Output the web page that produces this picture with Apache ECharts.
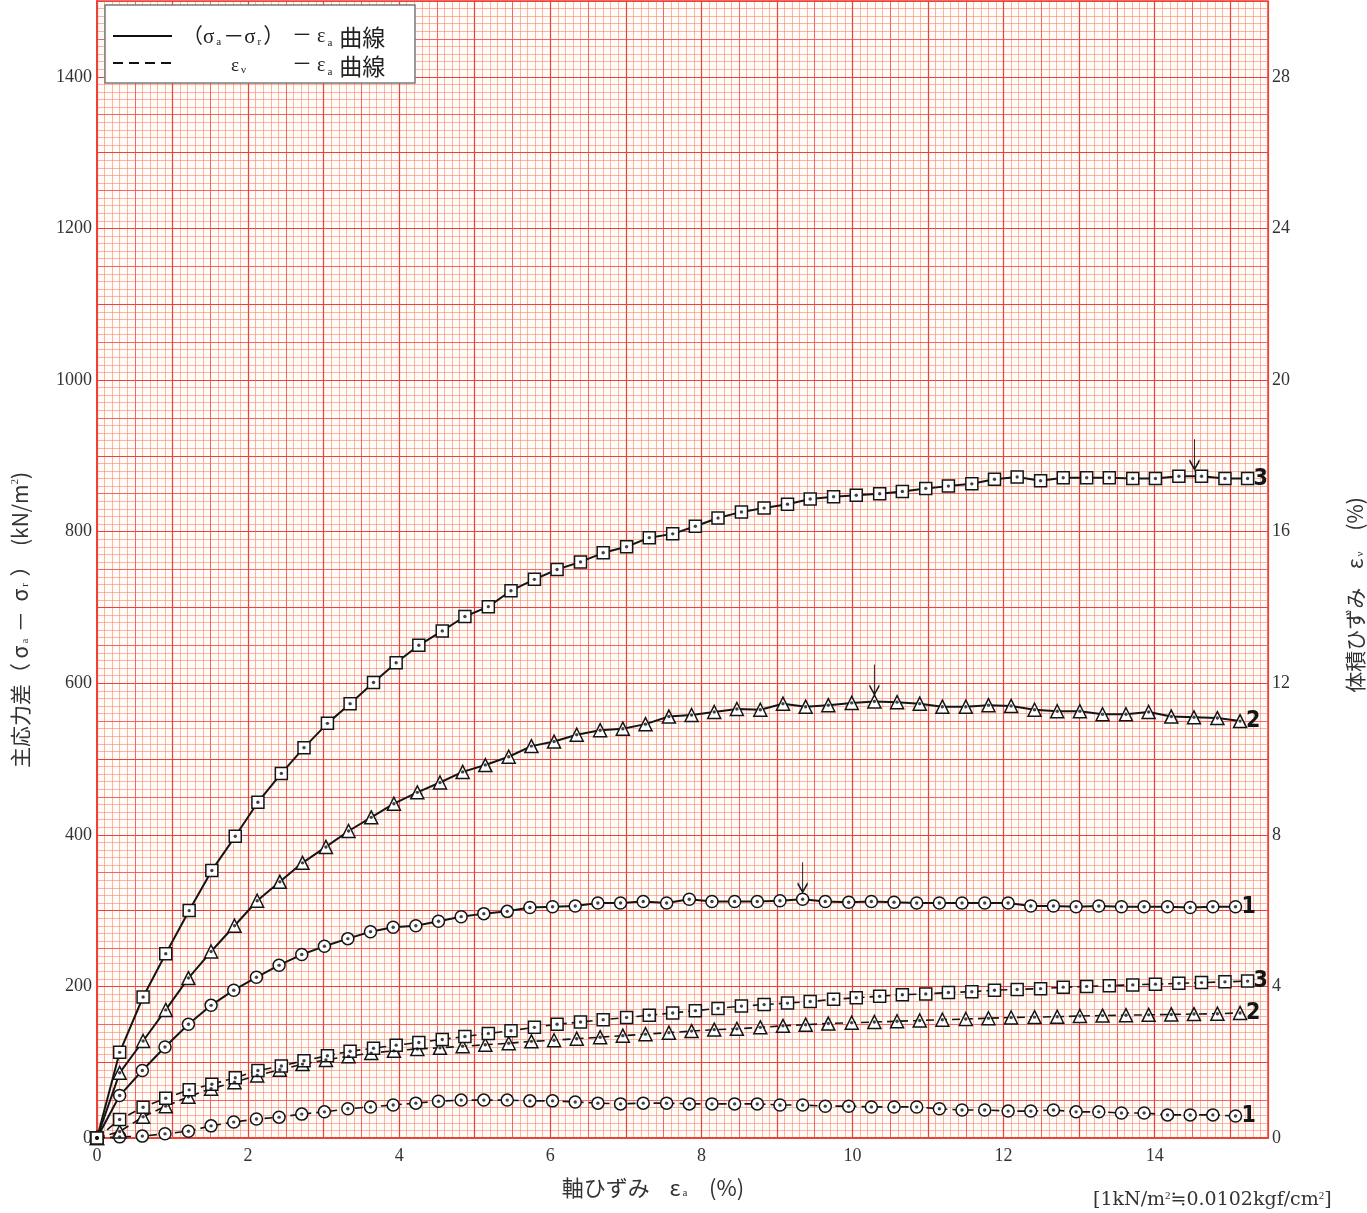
<!DOCTYPE html>
<html><head><meta charset="utf-8">
<script src="https://cdn.jsdelivr.net/npm/echarts@6/dist/echarts.min.js"></script>
<style>html,body{margin:0;padding:0;background:#fff}#c{width:1367px;height:1213px}</style>
</head><body><div id="c"></div><script>
// Axial strain (%) of each measurement, per specimen
const strain1 = [0,0.30,0.60,0.90,1.21,1.51,1.81,2.11,2.41,2.71,3.01,3.32,3.62,3.92,4.22,4.52,4.82,5.12,5.43,5.73,6.03,6.33,6.63,6.93,7.23,7.54,7.84,8.14,8.44,8.74,9.04,9.34,9.64,9.95,10.25,10.55,10.85,11.15,11.45,11.75,12.06,12.36,12.66,12.96,13.26,13.56,13.86,14.17,14.47,14.77,15.07];
const strain2 = [0,0.30,0.61,0.91,1.21,1.51,1.82,2.12,2.42,2.72,3.03,3.33,3.63,3.93,4.24,4.54,4.84,5.14,5.45,5.75,6.05,6.35,6.66,6.96,7.26,7.57,7.87,8.17,8.47,8.78,9.08,9.38,9.68,9.99,10.29,10.59,10.89,11.19,11.50,11.80,12.10,12.41,12.71,13.01,13.31,13.62,13.92,14.22,14.52,14.83,15.13];
const strain3 = [0,0.30,0.61,0.91,1.22,1.52,1.83,2.13,2.44,2.74,3.05,3.35,3.66,3.96,4.26,4.57,4.87,5.18,5.48,5.79,6.09,6.40,6.70,7.01,7.31,7.62,7.92,8.22,8.53,8.83,9.14,9.44,9.75,10.05,10.36,10.66,10.97,11.27,11.58,11.88,12.18,12.49,12.79,13.10,13.40,13.71,14.01,14.32,14.62,14.93,15.23];
// Principal stress difference (kN/m2)
const stress1 = [0,56,89,120,150,175,195,212,228,242,253,263,272,278,280,286,292,296,299,304,305,306,310,310,312,310,315,312,312,312,313,315,312,311,312,311,310,310,310,310,310,306,306,305,306,305,305,305,304,305,305];
const stress2 = [0,86,128,169,211,246,280,313,338,363,384,405,423,441,456,469,483,492,503,517,523,532,538,540,546,556,558,562,566,565,573,569,571,574,576,575,573,569,569,571,570,565,563,563,559,559,562,556,555,554,550];
const stress3 = [0,113,186,243,300,353,398,443,481,515,547,573,601,627,650,669,688,701,722,737,750,760,772,780,792,797,807,818,826,831,836,843,846,848,850,853,857,860,863,869,872,867,871,871,871,870,870,873,873,870,870];
// Volumetric strain (%)
const vol1 = [0,0.03,0.05,0.11,0.18,0.32,0.42,0.50,0.55,0.63,0.69,0.77,0.82,0.87,0.92,0.97,1.00,1.00,1.00,0.98,0.98,0.95,0.92,0.90,0.92,0.92,0.90,0.90,0.90,0.90,0.87,0.87,0.84,0.84,0.82,0.82,0.82,0.77,0.74,0.74,0.71,0.71,0.74,0.69,0.69,0.66,0.66,0.61,0.61,0.61,0.58];
const vol2 = [0,0.17,0.56,0.84,1.09,1.30,1.47,1.65,1.80,1.95,2.06,2.16,2.24,2.30,2.35,2.38,2.42,2.46,2.50,2.55,2.58,2.62,2.66,2.70,2.74,2.78,2.82,2.86,2.88,2.92,2.96,2.99,3.02,3.04,3.06,3.08,3.10,3.12,3.14,3.16,3.18,3.19,3.20,3.22,3.23,3.24,3.25,3.26,3.27,3.28,3.30];
const vol3 = [0,0.49,0.81,1.05,1.27,1.42,1.59,1.78,1.90,2.04,2.17,2.29,2.37,2.45,2.52,2.60,2.68,2.76,2.83,2.92,3.00,3.06,3.12,3.18,3.24,3.30,3.36,3.42,3.48,3.52,3.56,3.60,3.66,3.70,3.74,3.78,3.80,3.84,3.86,3.90,3.92,3.94,3.98,4.00,4.02,4.04,4.06,4.08,4.10,4.12,4.14];
// Peak (failure) point index per specimen, marked with an arrow
const peakIdx = {1: 31, 2: 34, 3: 48};
const specLabels = ['1', '2', '3'];
const xTicks = {min: 0, max: 15.5, step: 2};
const yTicksLeft = {min: 0, max: 1500, step: 200};
const yTicksRight = {min: 0, max: 30, step: 4};

const zip = (xs, ys) => xs.map((x, i) => [x, ys[i]]);

const SERIF = "'Liberation Serif','DejaVu Serif','Noto Sans CJK JP',serif";
const DSERIF = "'DejaVu Serif','Liberation Serif','Noto Sans CJK JP',serif";
const JP = "'Noto Sans CJK JP','Liberation Serif',serif";
const MINOR = 'rgba(246,125,90,0.55)';
const MID = 'rgba(240,80,70,0.75)';
const MAJOR = '#ec4238';

function gridX(interval, color, width, z) {
  return {type: 'value', min: xTicks.min, max: xTicks.max, interval: interval, z: z,
    axisLine: {show: false}, axisTick: {show: false}, axisLabel: {show: false},
    splitLine: {show: true, lineStyle: {color: color, width: width}}};
}
function gridY(interval, color, width, z) {
  return {type: 'value', min: yTicksLeft.min, max: yTicksLeft.max, interval: interval, z: z, position: 'left',
    axisLine: {show: false}, axisTick: {show: false}, axisLabel: {show: false},
    splitLine: {show: true, lineStyle: {color: color, width: width}}};
}

const symbols = {1: 'circle', 2: 'triangle', 3: 'rect'};
const sizes = {1: 12, 2: 13, 3: 12};
const strains = {1: strain1, 2: strain2, 3: strain3};
const stresses = {1: stress1, 2: stress2, 3: stress3};
const vols = {1: vol1, 2: vol2, 3: vol3};
const arrowOff = {1: [0, -22], 2: [0, -22], 3: [-7, -22]};
const endFont = "'DejaVu Sans Condensed','DejaVu Sans',sans-serif";

const series = [];
[1, 2, 3].forEach(k => {
  const st = strains[k];
  const dS = zip(st, stresses[k]);
  const dV = zip(st, vols[k]);
  const p = peakIdx[k];
  series.push({
    type: 'line', name: 'stress' + k, data: dS, xAxisIndex: 0, yAxisIndex: 0, z: 5,
    symbol: symbols[k], symbolSize: sizes[k], showAllSymbol: true,
    lineStyle: {color: '#151515', width: 2},
    itemStyle: {color: '#fff', borderColor: '#151515', borderWidth: 1.5},
    endLabel: {show: true, formatter: specLabels[k - 1], color: '#151515', fontSize: 23, fontWeight: 'bold',
      fontFamily: endFont, distance: 6},
    markPoint: {
      symbol: 'path://M6,0 L6,30 M1,21 L6,30 L11,21', symbolSize: [10, 30], symbolOffset: arrowOff[k],
      itemStyle: {color: 'none', borderColor: '#1a1a1a', borderWidth: 1.6},
      label: {show: false},
      data: [{coord: [st[p], stresses[k][p]]}]
    }
  });
  series.push({
    type: 'line', name: 'vol' + k, data: dV, xAxisIndex: 0, yAxisIndex: 1, z: 5,
    symbol: symbols[k], symbolSize: sizes[k], showAllSymbol: true,
    lineStyle: {color: '#151515', width: 1.6, type: [8, 5]},
    itemStyle: {color: '#fff', borderColor: '#151515', borderWidth: 1.5},
    endLabel: {show: true, formatter: specLabels[k - 1], color: '#151515', fontSize: 23, fontWeight: 'bold',
      fontFamily: endFont, distance: 6}
  });
  series.push({type: 'scatter', data: dS, xAxisIndex: 0, yAxisIndex: 0, z: 6, symbol: 'circle', symbolSize: 3.4,
    itemStyle: {color: '#111'}, silent: true});
  series.push({type: 'scatter', data: dV, xAxisIndex: 0, yAxisIndex: 1, z: 6, symbol: 'circle', symbolSize: 3.4,
    itemStyle: {color: '#111'}, silent: true});
});

const rich = {
  s: {fontSize: 11, verticalAlign: 'bottom', fontFamily: SERIF, padding: [0, 2, 0, 2]},
  p: {fontSize: 11, verticalAlign: 'top', fontFamily: SERIF},
  b: {fontSize: 23, fontFamily: JP}
};

const option = {
  animation: false,
  backgroundColor: '#fff',
  grid: {left: 97, right: 99, top: 1, bottom: 75, show: true, borderColor: MAJOR, borderWidth: 1.5, backgroundColor: '#fffbf8'},
  xAxis: [
    {type: 'value', min: xTicks.min, max: xTicks.max, interval: xTicks.step, z: 3,
      axisLine: {show: true, lineStyle: {color: MAJOR, width: 2}}, axisTick: {show: false},
      axisLabel: {color: '#333', fontSize: 18, fontFamily: SERIF, margin: 9,
        formatter: v => (Math.abs(v / xTicks.step - Math.round(v / xTicks.step)) < 1e-6 ? String(v) : '')},
      splitLine: {show: false}},
    gridX(0.1, MINOR, 1, 0),
    gridX(0.5, MID, 1, 1),
    gridX(1, MAJOR, 1.2, 2)
  ],
  yAxis: [
    {type: 'value', min: yTicksLeft.min, max: yTicksLeft.max, interval: yTicksLeft.step, position: 'left', z: 3,
      axisLine: {show: true, lineStyle: {color: MAJOR, width: 2}}, axisTick: {show: false},
      axisLabel: {color: '#333', fontSize: 18, fontFamily: SERIF, margin: 5,
        formatter: v => (v % yTicksLeft.step === 0 ? String(v) : '')},
      splitLine: {show: false}},
    {type: 'value', min: yTicksRight.min, max: yTicksRight.max, interval: yTicksRight.step, position: 'right', z: 3,
      axisLine: {show: false}, axisTick: {show: false},
      axisLabel: {color: '#333', fontSize: 18, fontFamily: SERIF, margin: 4,
        formatter: v => (v % yTicksRight.step === 0 ? String(v) : '')},
      splitLine: {show: false}},
    gridY(10, MINOR, 1, 0),
    gridY(50, MID, 1, 1),
    gridY(100, MAJOR, 1.2, 2)
  ],
  series: series,
  graphic: [
    {type: 'rect', z: 100, shape: {x: 105, y: 5, width: 310, height: 78},
      style: {fill: '#fff', stroke: '#7a7a7a', lineWidth: 1.5}},
    {type: 'line', z: 101, shape: {x1: 113, y1: 36, x2: 172, y2: 36}, style: {stroke: '#111', lineWidth: 2}},
    {type: 'line', z: 101, shape: {x1: 113, y1: 63, x2: 172, y2: 63}, style: {stroke: '#111', lineWidth: 2, lineDash: [10, 6]}},
    {type: 'text', z: 101, x: 182, y: 37, style: {text: '（σ{s|a}－σ{s|r}）', font: "21px " + SERIF, fill: '#222', verticalAlign: 'middle', rich: rich}},
    {type: 'text', z: 101, x: 292, y: 37, style: {text: '－ ε{s|a} {b|曲線}', font: "20px " + SERIF, fill: '#222', verticalAlign: 'middle', rich: rich}},
    {type: 'text', z: 101, x: 231, y: 66, style: {text: 'ε{s|ν}', font: "19px " + SERIF, fill: '#222', verticalAlign: 'middle', rich: rich}},
    {type: 'text', z: 101, x: 292, y: 66, style: {text: '－ ε{s|a} {b|曲線}', font: "20px " + SERIF, fill: '#222', verticalAlign: 'middle', rich: rich}},
    {type: 'text', x: 20, y: 620, rotation: Math.PI / 2,
      style: {text: '主応力差（ σ{s|a} －  σ{s|r} ）  (kN/m{p|2})', font: "21px " + JP, fill: '#333', align: 'center', verticalAlign: 'middle', rich: rich}},
    {type: 'text', x: 1355, y: 595, rotation: Math.PI / 2,
      style: {text: '体積ひずみ    ε{s|ν}    (%)', font: "21px " + JP, fill: '#333', align: 'center', verticalAlign: 'middle', rich: rich}},
    {type: 'text', x: 653, y: 1188,
      style: {text: '軸ひずみ    ε{s|a}    (%)', font: "22px " + JP, fill: '#333', align: 'center', verticalAlign: 'middle', rich: rich}},
    {type: 'text', x: 1093, y: 1200,
      style: {text: '[1kN/m{p|2}≒0.0102kgf/cm{p|2}]', font: "19px " + DSERIF, fill: '#333', align: 'left', verticalAlign: 'middle', rich: rich}}
  ]
};
const chart = echarts.init(document.getElementById('c'));
chart.setOption(option);
</script></body></html>
